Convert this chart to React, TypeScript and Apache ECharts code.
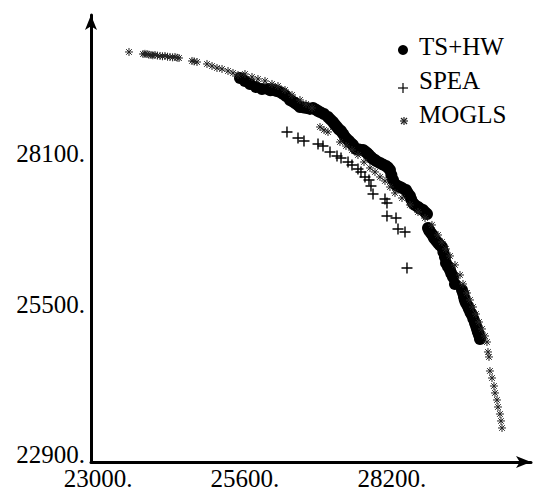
import React, { useEffect, useRef } from "react";
import * as echarts from "echarts";

const seriesNames = ["TS+HW", "SPEA", "MOGLS"];
const xTickValues = [23000, 25600, 28200];
const yTickValues = [22900, 25500, 28100];

const tsHwPoints: [number, number][] = [
  [25512, 29403], [25600, 29352], [25689, 29300], [25795, 29248], [25901, 29214],
  [26007, 29214], [26050, 29190], [26113, 29196], [26160, 29180], [26220, 29162],
  [26270, 29130], [26326, 29093], [26396, 29024], [26440, 29000], [26485, 28972],
  [26530, 28940], [26573, 28903], [26640, 28895], [26697, 28886], [26750, 28870],
  [26803, 28886], [26850, 28860], [26892, 28834], [26940, 28810], [26998, 28782],
  [27069, 28731], [27110, 28690], [27157, 28644], [27190, 28600], [27228, 28558],
  [27260, 28520], [27299, 28489], [27335, 28440], [27369, 28386], [27400, 28350],
  [27440, 28317], [27475, 28280], [27511, 28248], [27564, 28179], [27620, 28170],
  [27688, 28161], [27720, 28140], [27759, 28110], [27790, 28080], [27829, 28041],
  [27860, 28010], [27900, 27989], [27940, 27960], [27989, 27937], [28040, 27910],
  [28095, 27885], [28130, 27860], [28165, 27816], [28190, 27730], [28219, 27644],
  [28272, 27558], [28300, 27540], [28342, 27523], [28390, 27500], [28449, 27471],
  [28480, 27420], [28519, 27368], [28540, 27310], [28572, 27247], [28610, 27210],
  [28661, 27178], [28700, 27150], [28749, 27126], [28785, 27090], [28820, 27057],
  [28838, 26816], [28860, 26770], [28891, 26730], [28920, 26690], [28944, 26643],
  [28980, 26600], [29015, 26557], [29050, 26520], [29085, 26488], [29110, 26400],
  [29138, 26316], [29156, 26212], [29190, 26150], [29227, 26091], [29250, 26030],
  [29280, 25971], [29315, 25850], [29439, 25746], [29460, 25690], [29475, 25626],
  [29490, 25570], [29510, 25522], [29540, 25470], [29563, 25419], [29590, 25360],
  [29616, 25315], [29640, 25250], [29669, 25177], [29690, 25120], [29705, 25074],
  [29720, 25020], [29740, 24970], [29758, 24901],
];

const speaPoints: [number, number][] = [
  [26343, 28472], [26538, 28368], [26644, 28317], [26892, 28265], [26980, 28230],
  [27104, 28127], [27228, 28058], [27299, 28023], [27423, 27954], [27493, 27903],
  [27599, 27834], [27652, 27782], [27723, 27696], [27794, 27644], [27829, 27540],
  [27865, 27402], [28077, 27316], [28112, 27247], [28112, 27023], [28272, 26988],
  [28307, 26799], [28431, 26747], [28466, 26126],
];

const moglsPoints: [number, number][] = [
  [23548, 29852], [23796, 29817], [23830, 29820], [23867, 29817], [23900, 29805],
  [23938, 29800], [23970, 29795], [24008, 29800], [24050, 29790], [24097, 29783],
  [24140, 29778], [24185, 29783], [24230, 29770], [24274, 29766], [24320, 29760],
  [24362, 29766], [24400, 29752], [24433, 29748], [24663, 29697], [24700, 29690],
  [24751, 29679], [24928, 29645], [25017, 29610], [25105, 29576], [25194, 29559],
  [25300, 29524], [25388, 29490], [25477, 29455], [25600, 29472], [25724, 29421],
  [25830, 29386], [25954, 29352], [26078, 29300], [26184, 29265], [26308, 29196],
  [26432, 29110], [26573, 29024], [26680, 28955], [26786, 28886], [26927, 28558],
  [26998, 28506], [27069, 28472], [27281, 28299], [27387, 28230], [27493, 28161],
  [27599, 28075], [27706, 27954], [27812, 27851], [27900, 27782], [27989, 27696],
  [28077, 27627], [28165, 27523], [28254, 27420], [28378, 27333], [28519, 27213],
  [28661, 27092], [28785, 26988], [28908, 26868], [29015, 26695], [29085, 26574],
  [29156, 26454], [29227, 26333], [29315, 26178], [29404, 26005], [29457, 25850],
  [29528, 25695], [29581, 25574], [29634, 25453], [29687, 25332], [29740, 25194],
  [29793, 25074], [29846, 24953], [29881, 24849], [29899, 24677], [29917, 24591],
  [29934, 24349], [29970, 24228], [30005, 24090], [30023, 23970], [30058, 23849],
  [30076, 23728], [30111, 23607], [30129, 23487], [30147, 23366],
];

const PLUS = "path://M5,0L5,10M0,5L10,5";
const STAR = "path://M5,0L5,10M0,5L10,5M1.5,1.5L8.5,8.5M8.5,1.5L1.5,8.5";
const FONT = "Liberation Serif";

export default function App() {
  const ref = useRef<HTMLDivElement>(null);
  useEffect(() => {
    if (!ref.current) return;
    const chart = echarts.init(ref.current, null, { renderer: "svg" });
    const axisLine = {
      show: true,
      symbol: ["none", "arrow"],
      symbolSize: [9, 15],
      lineStyle: { color: "#000", width: 3 },
    };
    const legendText = (text: string, y: number) => ({
      type: "text",
      x: 419,
      y,
      style: { text, fontFamily: FONT, fontSize: 25, fill: "#000", verticalAlign: "middle" },
    });
    const seg = (x1: number, y1: number, x2: number, y2: number, c: string) => ({
      type: "line",
      shape: { x1, y1, x2, y2 },
      style: { stroke: c, lineWidth: 1.2 },
    });
    chart.setOption({
      animation: false,
      backgroundColor: "#fff",
      grid: { left: 91, right: 7, top: 15, bottom: 36, containLabel: false },
      xAxis: {
        type: "value",
        min: 22876,
        max: 30660,
        axisLine,
        axisTick: { show: false },
        splitLine: { show: false },
        axisLabel: {
          customValues: xTickValues,
          formatter: (v: number) => v + ".",
          color: "#000",
          fontFamily: FONT,
          fontSize: 25,
          margin: 4,
          showMinLabel: true,
          showMaxLabel: true,
        },
      },
      yAxis: {
        type: "value",
        min: 22779,
        max: 30490,
        axisLine,
        axisTick: { show: false },
        splitLine: { show: false },
        axisLabel: {
          customValues: yTickValues,
          formatter: (v: number) => v + ".",
          color: "#000",
          fontFamily: FONT,
          fontSize: 25,
          margin: 6,
          showMinLabel: true,
          showMaxLabel: true,
        },
      },
      series: [
        {
          name: seriesNames[0],
          type: "scatter",
          data: tsHwPoints,
          symbol: "circle",
          symbolSize: 12,
          itemStyle: { color: "#000", opacity: 1 },
          z: 2,
        },
        {
          name: seriesNames[1],
          type: "scatter",
          data: speaPoints,
          symbol: PLUS,
          symbolSize: 11,
          itemStyle: { color: "#000", borderColor: "#000", borderWidth: 1.4, opacity: 1 },
          z: 1,
        },
        {
          name: seriesNames[2],
          type: "scatter",
          data: moglsPoints,
          symbol: STAR,
          symbolSize: 8,
          itemStyle: { color: "#222", borderColor: "#222", borderWidth: 1, opacity: 1 },
          z: 3,
        },
      ],
      graphic: [
        { type: "circle", shape: { cx: 403, cy: 50, r: 5 }, style: { fill: "#000" } },
        seg(398, 88, 408, 88, "#000"),
        seg(403, 83, 403, 93, "#000"),
        seg(400, 121, 408, 121, "#222"),
        seg(404, 117, 404, 125, "#222"),
        seg(401, 118, 407, 124, "#222"),
        seg(407, 118, 401, 124, "#222"),
        legendText(seriesNames[0], 46),
        legendText(seriesNames[1], 80),
        legendText(seriesNames[2], 114),
      ],
    });
    return () => chart.dispose();
  }, []);
  return <div ref={ref} style={{ width: 538, height: 498, position: "absolute", left: 0, top: 0 }} />;
}
